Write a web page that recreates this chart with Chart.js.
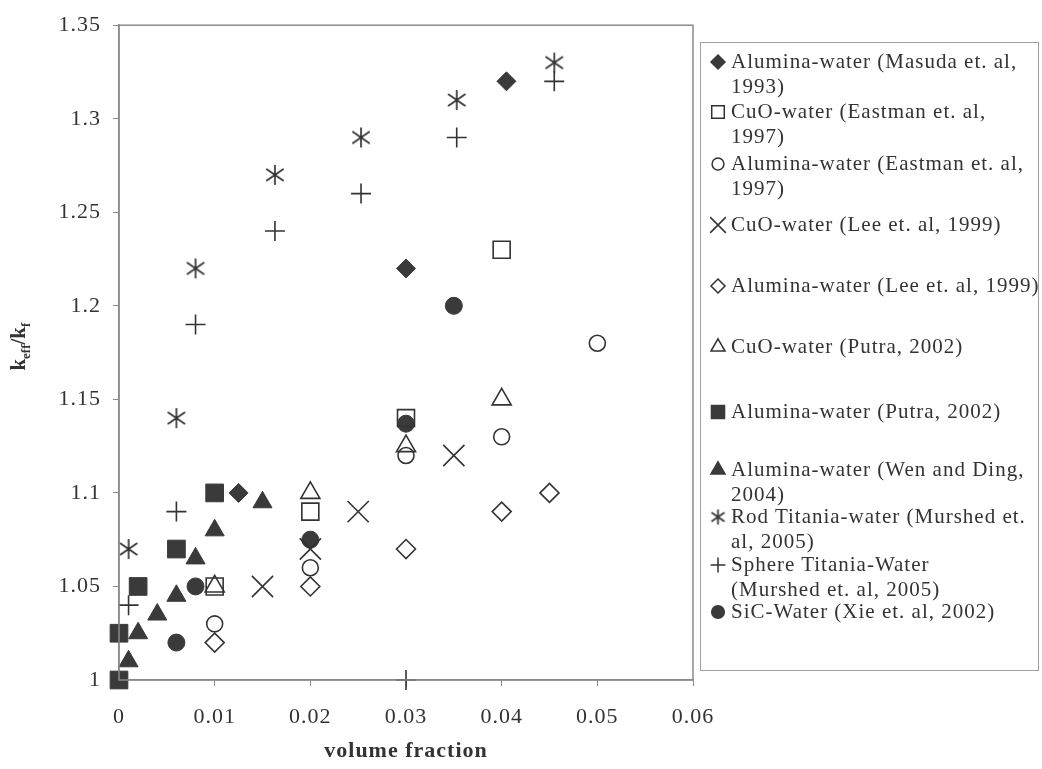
<!DOCTYPE html>
<html>
<head>
<meta charset="utf-8">
<script src="https://cdn.jsdelivr.net/npm/chart.js@4.4.1/dist/chart.umd.min.js"></script>
<style>
  body { margin: 0; background: #fff; }
  #wrap { position: relative; width: 1042px; height: 769px; }
  #legend {
    position: absolute; left: 700px; top: 42px; width: 337px; height: 627px;
    border: 1px solid #a0a0a0; font-family: "Liberation Serif", serif; font-size: 21px;
    letter-spacing: 1px; color: #333;
  }
  .entry { position: absolute; left: 0; width: 337px; }
  .entry canvas { position: absolute; left: 7px; top: 2px; }
  .entry div { position: absolute; left: 30px; line-height: 24.5px; white-space: nowrap; }
</style>
</head>
<body>
<div id="wrap">
  <canvas id="myChart" width="1042" height="769"></canvas>
  <div id="legend"></div>
</div>
<script>
// values: volume fraction vs keff/kf
var masudaX = [0.0125, 0.03, 0.0405];
var masudaY = [1.10, 1.22, 1.32];
var eastmanCuoX = [0.01, 0.02, 0.03, 0.04];
var eastmanCuoY = [1.05, 1.09, 1.14, 1.23];
var eastmanAlX = [0.01, 0.02, 0.03, 0.04, 0.05];
var eastmanAlY = [1.03, 1.06, 1.12, 1.13, 1.18];
var leeCuoX = [0.015, 0.02, 0.025, 0.035];
var leeCuoY = [1.05, 1.07, 1.09, 1.12];
var leeAlX = [0.01, 0.02, 0.03, 0.04, 0.045];
var leeAlY = [1.02, 1.05, 1.07, 1.09, 1.10];
var putraCuoX = [0.01, 0.02, 0.03, 0.04];
var putraCuoY = [1.05, 1.10, 1.125, 1.15];
var putraAlX = [0, 0, 0.002, 0.006, 0.01];
var putraAlY = [1.00, 1.025, 1.05, 1.07, 1.10];
var wenX = [0.001, 0.002, 0.004, 0.006, 0.008, 0.01, 0.015];
var wenY = [1.01, 1.025, 1.035, 1.045, 1.065, 1.08, 1.095];
var rodX = [0.001, 0.006, 0.008, 0.0163, 0.0253, 0.0353, 0.0455];
var rodY = [1.07, 1.14, 1.22, 1.27, 1.29, 1.31, 1.33];
var sphereX = [0.001, 0.006, 0.008, 0.0163, 0.0253, 0.03, 0.0353, 0.0455];
var sphereY = [1.04, 1.09, 1.19, 1.24, 1.26, 1.00, 1.29, 1.32];
var sicX = [0.006, 0.008, 0.02, 0.03, 0.035];
var sicY = [1.02, 1.05, 1.075, 1.137, 1.20];

var legendLines = [
  ["Alumina-water (Masuda et. al,", "1993)"],
  ["CuO-water (Eastman et. al,", "1997)"],
  ["Alumina-water (Eastman et. al,", "1997)"],
  ["CuO-water (Lee et. al, 1999)"],
  ["Alumina-water (Lee et. al, 1999)"],
  ["CuO-water (Putra, 2002)"],
  ["Alumina-water (Putra, 2002)"],
  ["Alumina-water (Wen and Ding,", "2004)"],
  ["Rod Titania-water (Murshed et.", "al, 2005)"],
  ["Sphere Titania-Water", "(Murshed et. al, 2005)"],
  ["SiC-Water (Xie et. al, 2002)"]
];
var legendTops = [6, 56, 108, 169, 230, 291, 356, 414, 461, 509, 556];

var ink = "#333333";
var fillInk = "#3a3a3a";

function asterisk(size) {
  var c = document.createElement("canvas");
  c.width = size; c.height = size;
  var g = c.getContext("2d");
  var m = size / 2, r = size / 2 - 1;
  g.strokeStyle = ink; g.lineWidth = 1.7;
  g.beginPath();
  g.moveTo(m, m - r); g.lineTo(m, m + r);
  g.moveTo(m - r * 0.87, m - r * 0.6); g.lineTo(m + r * 0.87, m + r * 0.6);
  g.moveTo(m - r * 0.87, m + r * 0.6); g.lineTo(m + r * 0.87, m - r * 0.6);
  g.stroke();
  return c;
}

function pts(xs, ys) {
  return xs.map(function (x, i) { return { x: x, y: ys[i] }; });
}

var series = [
  { label: legendLines[0].join(" "), data: pts(masudaX, masudaY), pointStyle: "rectRot", radius: 9.5, filled: true },
  { label: legendLines[1].join(" "), data: pts(eastmanCuoX, eastmanCuoY), pointStyle: "rect", radius: 12, filled: false },
  { label: legendLines[2].join(" "), data: pts(eastmanAlX, eastmanAlY), pointStyle: "circle", radius: 8, filled: false },
  { label: legendLines[3].join(" "), data: pts(leeCuoX, leeCuoY), pointStyle: "crossRot", radius: 15, filled: false },
  { label: legendLines[4].join(" "), data: pts(leeAlX, leeAlY), pointStyle: "rectRot", radius: 9.5, filled: false },
  { label: legendLines[5].join(" "), data: pts(putraCuoX, putraCuoY), pointStyle: "triangle", radius: 11, filled: false },
  { label: legendLines[6].join(" "), data: pts(putraAlX, putraAlY), pointStyle: "rect", radius: 12.5, filled: true },
  { label: legendLines[7].join(" "), data: pts(wenX, wenY), pointStyle: "triangle", radius: 11, filled: true },
  { label: legendLines[8].join(" "), data: pts(rodX, rodY), pointStyle: asterisk(22), radius: 11, filled: false },
  { label: legendLines[9].join(" "), data: pts(sphereX, sphereY), pointStyle: "cross", radius: 10, filled: false },
  { label: legendLines[10].join(" "), data: pts(sicX, sicY), pointStyle: "circle", radius: 8.5, filled: true }
];

var datasets = series.map(function (s) {
  return {
    label: s.label,
    data: s.data,
    showLine: false,
    clip: false,
    pointStyle: s.pointStyle,
    pointRadius: s.radius,
    pointHoverRadius: s.radius,
    pointBorderWidth: s.filled ? 1 : 1.6,
    pointBorderColor: s.filled ? fillInk : ink,
    pointBackgroundColor: s.filled ? fillInk : "rgba(0,0,0,0)"
  };
});

var spacing = {
  id: "spacing",
  beforeLayout: function (chart) { chart.ctx.letterSpacing = "1px"; },
  beforeDraw: function (chart) { chart.ctx.letterSpacing = "1px"; }
};

var frame = {
  id: "frame",
  afterDraw: function (chart) {
    var a = chart.chartArea, ctx = chart.ctx;
    ctx.save();
    ctx.strokeStyle = "#8a8a8a";
    ctx.lineWidth = 1.5;
    ctx.strokeRect(a.left, a.top, a.right - a.left, a.bottom - a.top);
    ctx.restore();
  }
};

var yTitle = {
  id: "yTitle",
  afterDraw: function (chart) {
    var a = chart.chartArea, ctx = chart.ctx;
    var parts = [["k", 21, 0], ["eff", 13, 5], ["/k", 21, 0], ["f", 13, 5]];
    ctx.save();
    ctx.letterSpacing = "0px";
    ctx.fillStyle = ink;
    ctx.textBaseline = "alphabetic";
    var total = 0;
    parts.forEach(function (p) {
      ctx.font = "bold " + p[1] + "px 'Liberation Serif'";
      total += ctx.measureText(p[0]).width;
    });
    ctx.translate(25, (a.top + a.bottom) / 2 - 6);
    ctx.rotate(-Math.PI / 2);
    var x = -total / 2;
    parts.forEach(function (p) {
      ctx.font = "bold " + p[1] + "px 'Liberation Serif'";
      ctx.fillText(p[0], x, p[2]);
      x += ctx.measureText(p[0]).width;
    });
    ctx.restore();
  }
};

var ctx = document.getElementById("myChart");
new Chart(ctx, {
  type: "scatter",
  data: { datasets: datasets },
  plugins: [spacing, frame, yTitle],
  options: {
    responsive: false,
    animation: false,
    layout: { padding: { top: 16, right: 349, left: 0, bottom: 0 } },
    plugins: { legend: { display: false }, tooltip: { enabled: false } },
    scales: {
      x: {
        type: "linear",
        min: 0,
        max: 0.06,
        afterFit: function (scale) { scale.height = 89; },
        border: { color: "#8a8a8a", width: 1.5 },
        grid: { drawOnChartArea: false, drawTicks: true, tickLength: 6, color: "#8a8a8a" },
        ticks: {
          stepSize: 0.01,
          padding: 18,
          color: ink,
          font: { family: "Liberation Serif", size: 22 },
          callback: function (v) { return String(parseFloat(v.toFixed(3))); }
        },
        title: {
          display: true,
          text: "volume fraction",
          color: ink,
          padding: { top: 2, bottom: 4 },
          font: { family: "Liberation Serif", size: 22, weight: "bold" }
        }
      },
      y: {
        type: "linear",
        min: 1,
        max: 1.35,
        afterFit: function (scale) { scale.width = 119; },
        border: { color: "#8a8a8a", width: 1.5 },
        grid: { drawOnChartArea: false, drawTicks: true, tickLength: 6, color: "#8a8a8a" },
        ticks: {
          stepSize: 0.05,
          padding: 12,
          color: ink,
          font: { family: "Liberation Serif", size: 22 },
          callback: function (v) { return String(parseFloat(v.toFixed(3))); }
        }
      }
    }
  }
});

// legend box drawn as html text with small symbol canvases
var box = document.getElementById("legend");
series.forEach(function (s, i) {
  var entry = document.createElement("div");
  entry.className = "entry";
  entry.style.top = legendTops[i] + "px";
  var c = document.createElement("canvas");
  c.width = 20; c.height = 20;
  var g = c.getContext("2d");
  g.fillStyle = s.filled ? fillInk : "rgba(0,0,0,0)";
  g.strokeStyle = s.filled ? fillInk : ink;
  g.lineWidth = 1.5;
  if (typeof s.pointStyle === "string") {
    Chart.helpers.drawPoint(g, { pointStyle: s.pointStyle, radius: s.radius * 0.74, borderWidth: 1.5, rotation: 0 }, 10, 11);
  } else {
    g.drawImage(asterisk(17), 1.5, 2.5);
  }
  entry.appendChild(c);
  var t = document.createElement("div");
  t.innerHTML = legendLines[i].join("<br>");
  entry.appendChild(t);
  box.appendChild(entry);
});
</script>
</body>
</html>
